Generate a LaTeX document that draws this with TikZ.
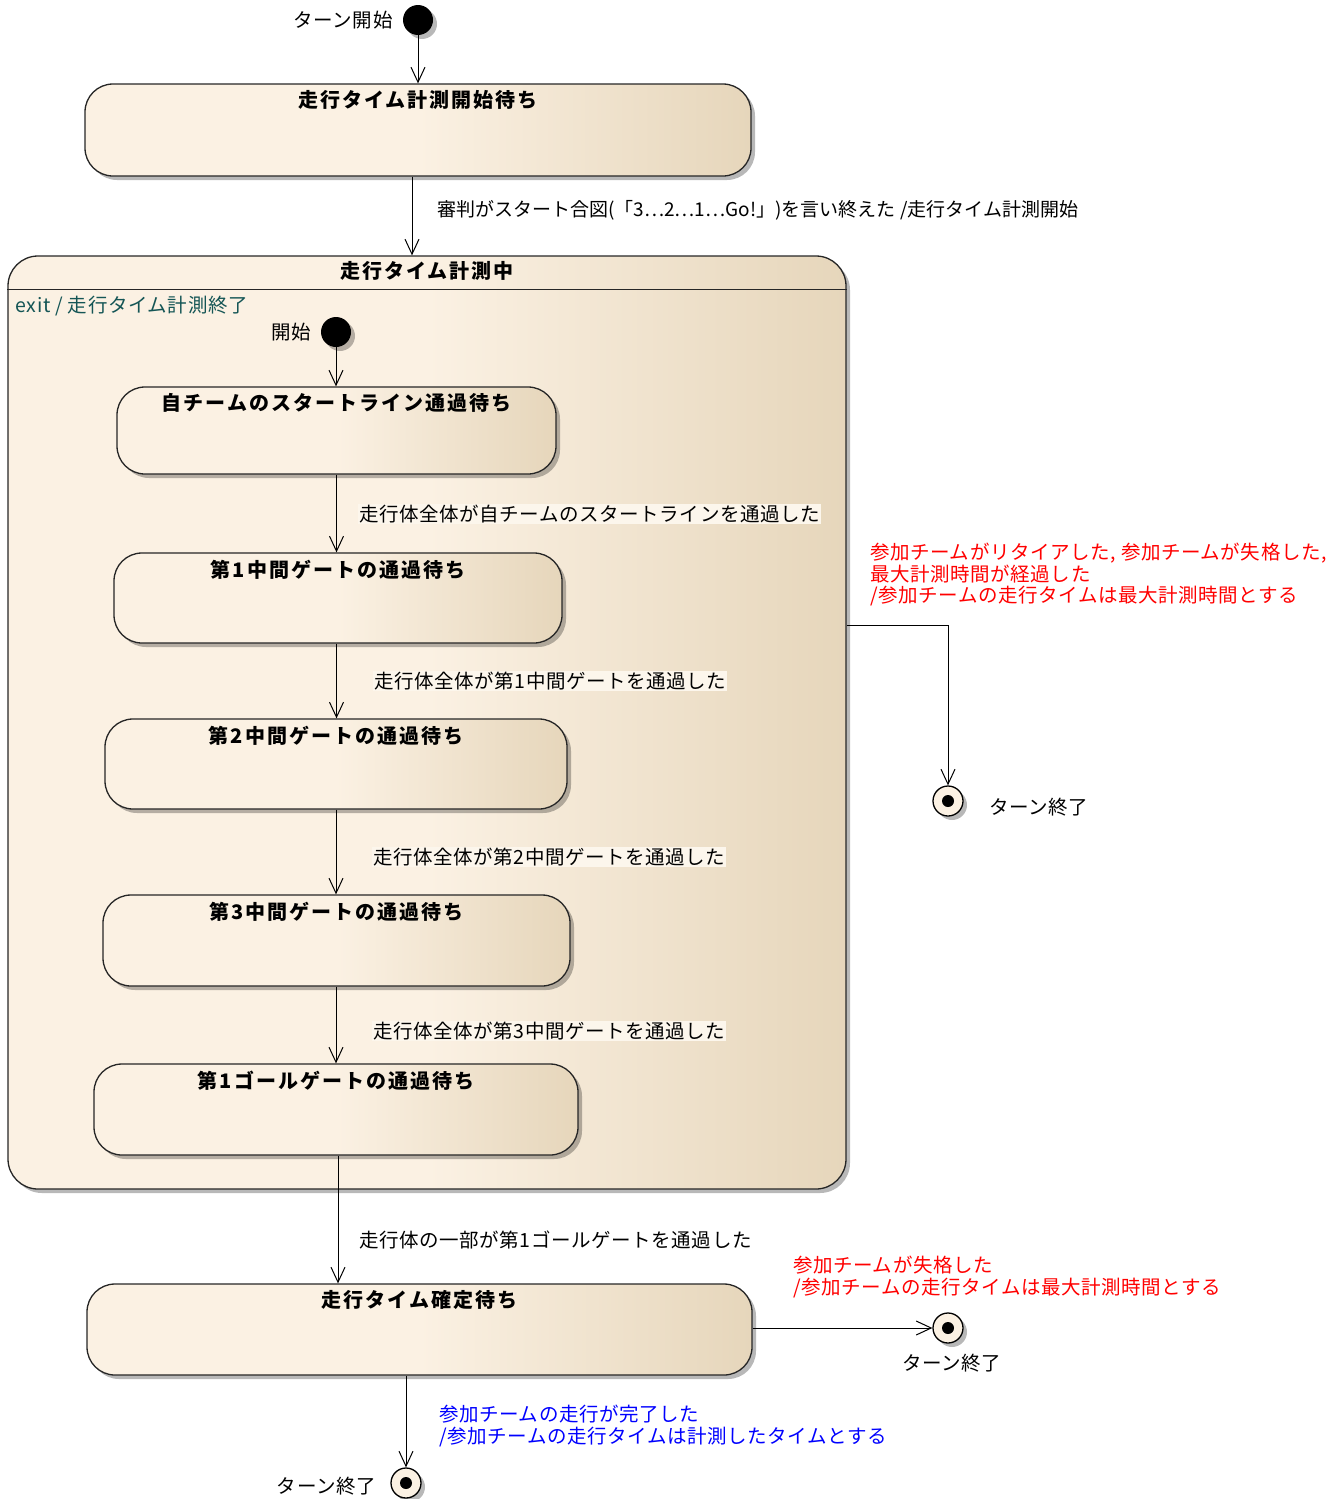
\documentclass[tikz,border=0pt]{standalone}
\usepackage{fontspec}
\setmainfont{Noto Sans CJK JP}
\newfontfamily\labelfont[LetterSpace=3]{Noto Sans CJK JP}
\newfontfamily\titlefont[LetterSpace=10]{Noto Sans CJK JP}
\usetikzlibrary{arrows.meta,shadows}
\definecolor{stA}{RGB}{251,241,227}
\definecolor{stB}{RGB}{230,214,187}
\definecolor{lblbg}{RGB}{252,246,236}
\definecolor{exitc}{RGB}{20,85,85}
\definecolor{guardred}{RGB}{255,0,0}
\definecolor{guardblue}{RGB}{0,0,255}
% cream on the left half, turning beige towards the right edge
\pgfdeclarehorizontalshading{statefill}{100bp}{color(0bp)=(stA); color(50bp)=(stA); color(75bp)=(stB); color(100bp)=(stB)}
\begin{document}
\begin{tikzpicture}[x=1pt,y=-1pt,
  every node/.style={inner sep=1pt, font=\labelfont\fontsize{19.5}{21.5}\selectfont},
  shadowed/.style={drop shadow={shadow xshift=4pt, shadow yshift=-4pt, opacity=0.28, fill=black}},
  state/.style={draw=black!85, line width=1.3pt, rounded corners=28pt, shading=statefill, shadowed},
  ttl/.style={font=\titlefont\bfseries\fontsize{20}{22}\selectfont},
  initial/.style={circle, fill=black, minimum size=30pt, inner sep=0pt, shadowed},
  final/.style={circle, draw=black, line width=1.3pt, fill=stA, minimum size=30pt, inner sep=0pt, shadowed,
    path picture={\fill[black] (path picture bounding box.center) circle (6pt);}},
  tr/.style={draw, line width=1pt, -{Straight Barb[length=15pt,width=14pt]}},
  lbl/.style={anchor=west},
  inlbl/.style={anchor=west, fill=lblbg},
]
\useasboundingbox (0,0) rectangle (1340,1499);

% top level states
\node[initial] (ini1) at (418,20) {};
\node[anchor=east] (ini1l) at ([xshift=-9pt]ini1.west) {ターン開始};
\node[state, minimum width=666pt, minimum height=92pt] (s1) at (418,130) {};
\node[ttl] (s1t) at ([yshift=-17pt]s1.north) {走行タイム計測開始待ち};

% composite state
\node[state, rounded corners=30pt, minimum width=838pt, minimum height=933pt] (comp) at (427,722.5) {};
\draw[black!85, line width=1.3pt] ([yshift=-34pt]comp.north west) -- ([yshift=-34pt]comp.north east);
\node[ttl] (compt) at ([yshift=-16pt]comp.north) {走行タイム計測中};
\node[anchor=west, text=exitc] (compx) at ([xshift=7pt,yshift=-51pt]comp.north west) {exit / 走行タイム計測終了};

\node[initial] (ini2) at (336,332) {};
\node[anchor=east] (ini2l) at ([xshift=-9pt]ini2.west) {開始};

\node[state, minimum width=439pt, minimum height=87pt] (s2) at (336.5,430.5) {};
\node[ttl] (s2t) at ([yshift=-17pt]s2.north) {自チームのスタートライン通過待ち};
\node[state, minimum width=448pt, minimum height=90pt] (s3) at (338,598) {};
\node[ttl] (s3t) at ([yshift=-17pt]s3.north) {第1中間ゲートの通過待ち};
\node[state, minimum width=462pt, minimum height=90pt] (s4) at (336,764) {};
\node[ttl] (s4t) at ([yshift=-17pt]s4.north) {第2中間ゲートの通過待ち};
\node[state, minimum width=467pt, minimum height=91pt] (s5) at (336.5,940.5) {};
\node[ttl] (s5t) at ([yshift=-17pt]s5.north) {第3中間ゲートの通過待ち};
\node[state, minimum width=484pt, minimum height=91pt] (s6) at (336,1109.5) {};
\node[ttl] (s6t) at ([yshift=-17pt]s6.north) {第1ゴールゲートの通過待ち};

% waiting for the final time
\node[state, minimum width=665pt, minimum height=91pt] (s7) at (419.5,1329.5) {};
\node[ttl] (s7t) at ([yshift=-17pt]s7.north) {走行タイム確定待ち};

% final states
\node[final] (fin1) at (948,801) {};
\node[anchor=west] (fin1l) at (988,807) {ターン終了};
\node[final] (fin2) at (948,1328) {};
\node (fin2l) at (952,1363) {ターン終了};
\node[final] (fin3) at (406,1483) {};
\node[anchor=east] (fin3l) at (377,1486) {ターン終了};

% transitions
\draw[tr] (ini1) -- (ini1 |- s1.north);
\draw[tr] ([xshift=-6pt]s1.south) -- ([xshift=-6pt]s1.south |- comp.north);
\node[lbl, font=\fontsize{19}{21.5}\selectfont] (t1) at (436,210) {審判がスタート合図(「3…2…1…Go!」)を言い終えた /走行タイム計測開始};

\draw[tr] (ini2) -- (ini2 |- s2.north);
\draw[tr] (s2.south) -- (s2.south |- s3.north);
\node[inlbl] (t2) at (358,514) {走行体全体が自チームのスタートラインを通過した};
\draw[tr] (s2.south |- s3.south) -- (s2.south |- s4.north);
\node[inlbl] (t3) at (373,681) {走行体全体が第1中間ゲートを通過した};
\draw[tr] (s4.south) -- (s4.south |- s5.north);
\node[inlbl] (t4) at (372,857) {走行体全体が第2中間ゲートを通過した};
\draw[tr] (s4.south |- s5.south) -- (s4.south |- s6.north);
\node[inlbl] (t5) at (372,1031) {走行体全体が第3中間ゲートを通過した};

\draw[tr] ([xshift=2pt]s6.south) -- ([xshift=2pt]s6.south |- s7.north);
\node[lbl] (t6) at (358,1240) {走行体の一部が第1ゴールゲートを通過した};

\draw[tr] ([yshift=97.5pt]comp.east) -| (fin1);
\node[anchor=north west, align=left, text=guardred] (t7) at (869,542)
  {参加チームがリタイアした, 参加チームが失格した,\\最大計測時間が経過した\\/参加チームの走行タイムは最大計測時間とする};

\draw[tr] (s7.east |- fin2) -- (fin2);
\node[anchor=north west, align=left, text=guardred] (t8) at (792,1255)
  {参加チームが失格した\\/参加チームの走行タイムは最大計測時間とする};

\draw[tr] (fin3 |- s7.south) -- (fin3);
\node[anchor=north west, align=left, text=guardblue] (t9) at (438,1404)
  {参加チームの走行が完了した\\/参加チームの走行タイムは計測したタイムとする};
\end{tikzpicture}
\end{document}
